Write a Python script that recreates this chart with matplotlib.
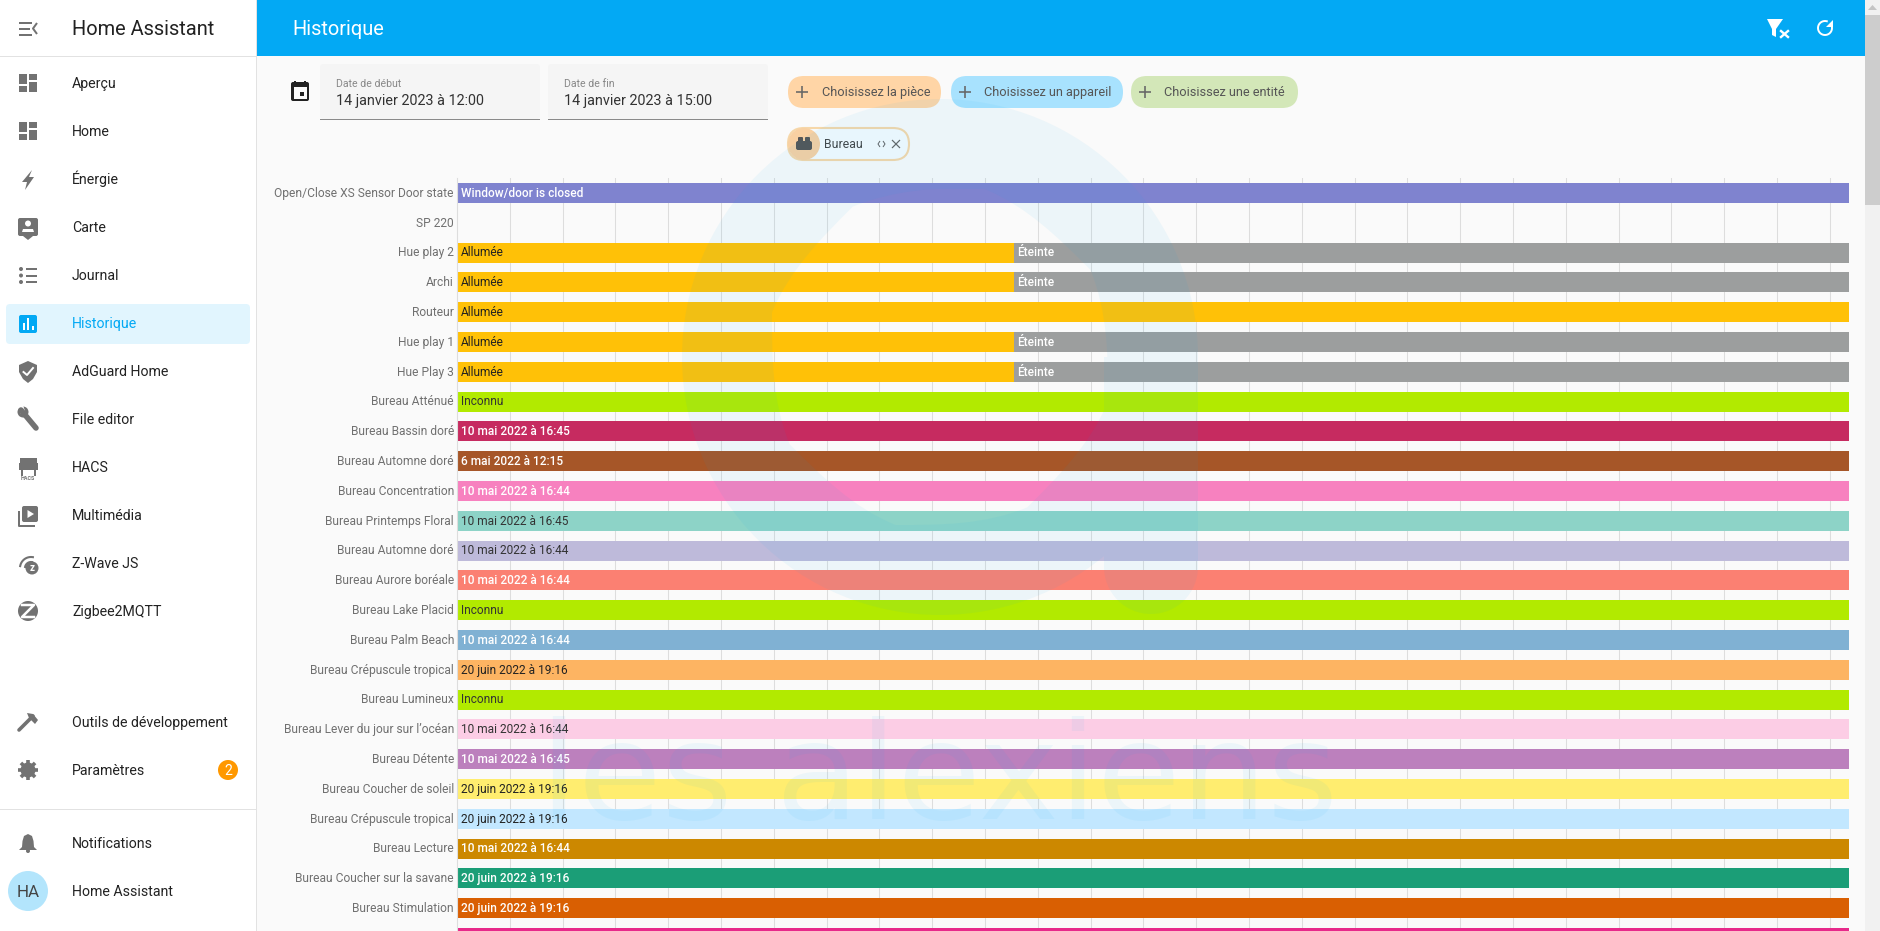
# coding: utf-8

import matplotlib
matplotlib.use("Agg")
import matplotlib.pyplot as plt
import numpy as np
from matplotlib.patches import Circle, FancyBboxPatch, PathPatch, Polygon, Rectangle
from matplotlib.path import Path
from matplotlib.transforms import ScaledTranslation

plt.rcParams["font.family"] = ["Roboto", "DejaVu Sans"]

# Timeline data: minutes after 12:00 for a window of 3 hours
window_minutes = 180
switch_minute = 72
row_labels = [
    "Open/Close XS Sensor Door state", "SP 220", "Hue play 2", "Archi", "Routeur",
    "Hue play 1", "Hue Play 3", "Bureau Atténué", "Bureau Bassin doré",
    "Bureau Automne doré", "Bureau Concentration", "Bureau Printemps Floral",
    "Bureau Automne doré", "Bureau Aurore boréale", "Bureau Lake Placid",
    "Bureau Palm Beach", "Bureau Crépuscule tropical", "Bureau Lumineux",
    "Bureau Lever du jour sur l’océan", "Bureau Détente", "Bureau Coucher de soleil",
    "Bureau Crépuscule tropical", "Bureau Lecture", "Bureau Coucher sur la savane",
    "Bureau Stimulation", "",
]
row_states = [
    "Window/door is closed", "", "Allumée", "Allumée", "Allumée", "Allumée", "Allumée",
    "Inconnu", "10 mai 2022 à 16:45", "6 mai 2022 à 12:15", "10 mai 2022 à 16:44",
    "10 mai 2022 à 16:45", "10 mai 2022 à 16:44", "10 mai 2022 à 16:44", "Inconnu",
    "10 mai 2022 à 16:44", "20 juin 2022 à 19:16", "Inconnu", "10 mai 2022 à 16:44",
    "10 mai 2022 à 16:45", "20 juin 2022 à 19:16", "20 juin 2022 à 19:16",
    "10 mai 2022 à 16:44", "20 juin 2022 à 19:16", "20 juin 2022 à 19:16", "",
]
row_colours = [
    "#7f83cf", None, "#ffc107", "#ffc107", "#ffc107", "#ffc107", "#ffc107", "#b2ea00",
    "#c62b60", "#a65628", "#f781bf", "#8dd3c7", "#bebada", "#fb8072", "#b2ea00",
    "#80b1d3", "#fdb462", "#b2ea00", "#fccde5", "#bc80bd", "#ffed6f", "#c2e7ff",
    "#cc8800", "#1b9e77", "#d95f02", "#e7298a",
]
state_text_colours = [
    "white", "#222222", "#222222", "#222222", "#222222", "#222222", "#222222", "#333333",
    "white", "white", "white", "#333333", "#333333", "white", "#333333", "white",
    "#222222", "#333333", "#333333", "white", "#222222", "#222222", "white", "white",
    "white", "white",
]
switched_rows = [2, 3, 5, 6]
off_label = "Éteinte"
off_colour = "#9c9e9e"
grid_minutes = np.arange(1, 27) * 6.828

nav_top = ["Aperçu", "Home", "Énergie", "Carte", "Journal", "Historique", "AdGuard Home",
           "File editor", "HACS", "Multimédia", "Z-Wave JS", "Zigbee2MQTT"]
nav_top_y = [83, 131, 179, 227, 275, 323, 371, 419, 467, 515, 563, 611]
nav_bottom = ["Outils de développement", "Paramètres", "Notifications", "Home Assistant"]
nav_bottom_y = [722, 770, 843, 891]
chip_labels = ["Choisissez la pièce", "Choisissez un appareil", "Choisissez une entité"]
chip_boxes = [(788, 941), (951, 1123), (1131, 1298)]
chip_colours = ["#ffd5a6", "#a8e2fe", "#d3e7b8"]

BLUE = "#03a9f4"
ICON = "#727272"

fig = plt.figure(figsize=(18.8, 9.31), dpi=100, facecolor="#fafafa")

# Page furniture is drawn in screen pixels
ui = fig.add_axes([0, 0, 1, 1], zorder=0)
ui.set_xlim(0, 1880)
ui.set_ylim(931, 0)
ui.axis("off")


def rect(x0, y0, x1, y1, colour, r=0, ax=ui, **kw):
    if r:
        ax.add_patch(FancyBboxPatch((x0, y0), x1 - x0, y1 - y0, boxstyle=f"round,pad=0,rounding_size={r}",
                                    fc=colour, ec="none", **kw))
    else:
        ax.add_patch(Rectangle((x0, y0), x1 - x0, y1 - y0, fc=colour, ec="none", **kw))


def poly(points, colour):
    ui.add_patch(Polygon(points, closed=True, fc=colour, ec="none"))


def circle(x, y, r, colour):
    ui.add_patch(Circle((x, y), r, fc=colour, ec="none"))


def line(xs, ys, colour, px=2):
    ui.plot(xs, ys, color=colour, lw=px * 0.72, solid_capstyle="butt")


def label(x, y, s, px, colour, ha="left", weight="normal"):
    # y is the middle of the capitals
    ui.text(x, y + 0.35 * px, s, fontsize=px * 0.72, color=colour, ha=ha, va="baseline", fontweight=weight)


def dashboard(y, colour=ICON):
    rect(19, y - 9, 27, y + 1, colour)
    rect(29, y - 9, 37, y - 3, colour)
    rect(19, y + 3, 27, y + 9, colour)
    rect(29, y - 1, 37, y + 9, colour)


# Sidebar and header
rect(0, 0, 257, 931, "white")
rect(256, 0, 257, 931, "#e2e2e2")
rect(0, 55.5, 257, 56.5, "#e2e2e2")
rect(0, 808.5, 257, 809.5, "#e2e2e2")
rect(257, 0, 1865, 56, BLUE)
rect(1865, 0, 1880, 931, "#f1f1f1")
rect(1865, 15, 1880, 205, "#cdcdcd")
poly([(1868, 10), (1872.5, 5), (1877, 10)], "#c4c4c4")
label(71.5, 28, "Home Assistant", 20, "#222222")
label(292, 28, "Historique", 20, "white")
for yy, x1 in zip([22.5, 28.5, 34.5], [32, 30, 32]):
    line([19, x1], [yy, yy], ICON)
line([37, 33, 37], [23, 28.5, 34], ICON)

rect(6, 304, 250, 344, "#e1f5fe", r=4)
for name, yy in zip(nav_top + nav_bottom, nav_top_y + nav_bottom_y):
    label(72, yy, name, 14.1, BLUE if name == "Historique" else "#222222")

dashboard(83)
dashboard(131)
poly([(32, 170), (22, 182), (27, 182), (25, 190), (34, 177), (29, 177)], ICON)
rect(18, 218, 38, 236, ICON, r=2)
poly([(23, 236), (33, 236), (28, 240)], ICON)
circle(28, 223.5, 3, "white")
poly([(22, 232), (23, 229), (33, 229), (34, 232)], "white")
for yy in [269, 275.5, 282]:
    circle(21, yy, 2, ICON)
    line([26, 37], [yy, yy], ICON)
rect(19, 315, 37, 333, BLUE, r=2)
rect(22.5, 323, 24.5, 330, "white")
rect(27, 318, 29, 330, "white")
rect(31.5, 326, 33.5, 330, "white")
poly([(28, 361), (37, 365), (37, 372), (33, 379), (28, 383), (23, 379), (19, 372), (19, 365)], ICON)
ui.plot([23.5, 27, 33], [372, 375, 368], color="white", lw=1.4)
ui.plot([21, 36], [410, 428], color=ICON, lw=4, solid_capstyle="round")
circle(23, 412, 5.5, ICON)
poly([(17, 405), (23, 405), (25, 411), (21, 414)], "white")
rect(20, 458, 37, 463, ICON)
rect(19, 463, 38, 470, ICON)
rect(21, 470, 36, 476, "white")
rect(21, 470, 23, 476, ICON)
rect(34, 470, 36, 476, ICON)
ui.text(28, 477.5, "HACS", fontsize=3.9, color=ICON, ha="center", va="center_baseline", fontweight="bold")
rect(22, 506, 38, 522, ICON, r=2)
poly([(27.5, 510), (27.5, 518), (34, 514)], "white")
line([19, 19, 35], [511, 526, 526], ICON, 2)
for radius in [6, 11]:
    theta = np.radians(np.linspace(190, 280, 20))
    ui.plot(31 + radius * np.cos(theta), 568 + radius * np.sin(theta), color=ICON, lw=1.5)
circle(32, 568, 6.5, ICON)
ui.text(32, 568, "z", fontsize=7, color="white", ha="center", va="center", fontweight="bold")
circle(28, 611, 10, ICON)
ui.plot([22, 34, 22, 34], [605, 605, 617, 617], color="white", lw=1.8)
ui.plot([19, 33], [730, 716], color=ICON, lw=2.6, solid_capstyle="round")
poly([(27, 713), (33, 714), (38, 720), (35, 724), (29, 718)], ICON)
for angle in np.arange(0, 180, 45):
    dx, dy = 10 * np.cos(np.radians(angle)), 10 * np.sin(np.radians(angle))
    ui.plot([28 - dx, 28 + dx], [770 - dy, 770 + dy], color=ICON, lw=2.6, solid_capstyle="butt")
circle(28, 770, 7.5, ICON)
circle(28, 770, 3.2, "white")
circle(228, 770, 10, "#ff9800")
label(228, 770, "2", 14, "white", ha="center")
poly([(28, 834), (32, 836), (33.5, 841), (34, 847), (37, 850), (19, 850), (22, 847), (22.5, 841), (24, 836)], ICON)
circle(28, 851, 2, ICON)
circle(28, 891, 20, "#b3e5fc")
label(28, 891, "HA", 17, "#444444", ha="center")

# Header icons
poly([(1767, 19), (1783, 19), (1776, 29), (1776, 37), (1772, 35), (1772, 29)], "white")
ui.plot([1781, 1788], [31, 37], color="white", lw=1.7)
ui.plot([1788, 1781], [31, 37], color="white", lw=1.7)
theta = np.radians(np.linspace(-30, 285, 40))
ui.plot(1825 + 7 * np.cos(theta), 28 + 7 * np.sin(theta), color="white", lw=1.4)
poly([(1833, 20), (1833, 27), (1826, 27)], "white")

# Date pickers and filter chips
for x0, x1, title, value in [(320, 540, "Date de début", "14 janvier 2023 à 12:00"),
                             (548, 768, "Date de fin", "14 janvier 2023 à 15:00")]:
    rect(x0, 64, x1, 119, "#f5f5f5", r=3)
    rect(x0, 119, x1, 120, "#8a8a8a")
    label(x0 + 16, 83, title, 10.5, "#888888")
    label(x0 + 16, 100, value, 14.4, "#333333")
rect(291, 82, 309, 101, "#212121", r=2)
rect(293.5, 87, 306.5, 98.5, "#fafafa")
rect(300, 92, 304, 96, "#212121")
line([295, 295], [81, 84], "#212121")
line([305, 305], [81, 84], "#212121")

for text, (x0, x1), colour in zip(chip_labels, chip_boxes, chip_colours):
    rect(x0, 76, x1, 108, colour, r=16)
    line([x0 + 8, x0 + 20], [92, 92], "#666666", 1.6)
    line([x0 + 14, x0 + 14], [86, 98], "#666666", 1.6)
    label(x0 + 33.5, 92, text, 12.8, "#555555")

ui.add_patch(FancyBboxPatch((788, 128), 121, 32, boxstyle="round,pad=0,rounding_size=16",
                            fc="#f6fbfe", ec="#f6d7a9", lw=1.5))
circle(804, 144, 16, "#f8d0a2")
rect(796, 141, 812, 150, "#555555", r=2)
rect(798, 137, 803, 145, "#555555", r=1)
rect(805, 137, 810, 145, "#555555", r=1)
label(824, 144, "Bureau", 12.2, "#444444")
line([880, 878, 880], [141, 144, 147], "#666666", 1)
line([883, 885, 883], [141, 144, 147], "#666666", 1)
line([892, 900], [140, 148], "#666666", 1.2)
line([900, 892], [140, 148], "#666666", 1.2)

# Timeline chart: columns in minutes, rows by index
row_pitch = 29.8
first_row_y = 193
chart = fig.add_axes([457 / 1880, 0, (1849 - 457) / 1880, (931 - 178) / 931], zorder=1)
chart.patch.set_alpha(0)
for side in ["top", "right", "bottom"]:
    chart.spines[side].set_visible(False)
chart.spines["left"].set_color("#dddddd")
chart.set_xticks(grid_minutes)
chart.set_xticklabels([])
chart.set_yticks(range(len(row_labels)))
chart.set_yticklabels(row_labels, fontsize=12 * 0.72, color="#707070")
chart.tick_params(length=0, pad=2.2)
chart.xaxis.grid(True, color="#dddddd", lw=0.75)
chart.set_axisbelow(True)

# labels sit about a pixel above the middle of their row
nudge_up = ScaledTranslation(0, 1.2 / 100, fig.dpi_scale_trans)
for tick_label in chart.get_yticklabels():
    tick_label.set_transform(tick_label.get_transform() + nudge_up)

for row, (state, colour, text_colour) in enumerate(zip(row_states, row_colours, state_text_colours)):
    if colour is None:
        continue
    end = switch_minute if row in switched_rows else window_minutes
    chart.barh(row, end, height=20 / row_pitch, color=colour, linewidth=0)
    if row in switched_rows:
        chart.barh(row, window_minutes - end, left=end, height=20 / row_pitch, color=off_colour, linewidth=0)
        chart.annotate(off_label, (end, row), xytext=(2.6, 0.9), textcoords="offset points", fontsize=8.6,
                       color="white", va="center_baseline", fontweight="medium")
    weight = "medium" if text_colour == "white" else "normal"
    chart.annotate(state, (0, row), xytext=(2.6, 0.9), textcoords="offset points", fontsize=8.6,
                   color=text_colour, va="center_baseline", fontweight=weight, annotation_clip=True)

# set last, the row ticks would widen the range otherwise
chart.set_xlim(0, window_minutes)
chart.set_ylim((931 - first_row_y) / row_pitch, (178 - first_row_y) / row_pitch)

# Faint site logo and name over the page
overlay = fig.add_axes([0, 0, 1, 1], zorder=2)
overlay.set_xlim(0, 1880)
overlay.set_ylim(931, 0)
overlay.axis("off")
outer = Path.circle((940, 357), 258)
inner = Path.circle((940, 357), 168)
inner = Path(inner.vertices[::-1], inner.codes)
stem = Path([(1104, 357), (1104, 567), (1198, 567), (1198, 357), (1104, 357)][::-1],
            [Path.MOVETO, Path.LINETO, Path.LINETO, Path.LINETO, Path.CLOSEPOLY])
stem_end = Path.circle((1151, 567), 47)
logo = Path.make_compound_path(outer, inner, stem, stem_end)
overlay.add_patch(PathPatch(logo, fc=BLUE, ec="none", alpha=0.055))
overlay.text(939, 819, "les alexiens", fontsize=98, family="DejaVu Sans", color=BLUE, alpha=0.055,
             ha="center", va="baseline")

fig.savefig("out.png", dpi=100, facecolor=fig.get_facecolor())
